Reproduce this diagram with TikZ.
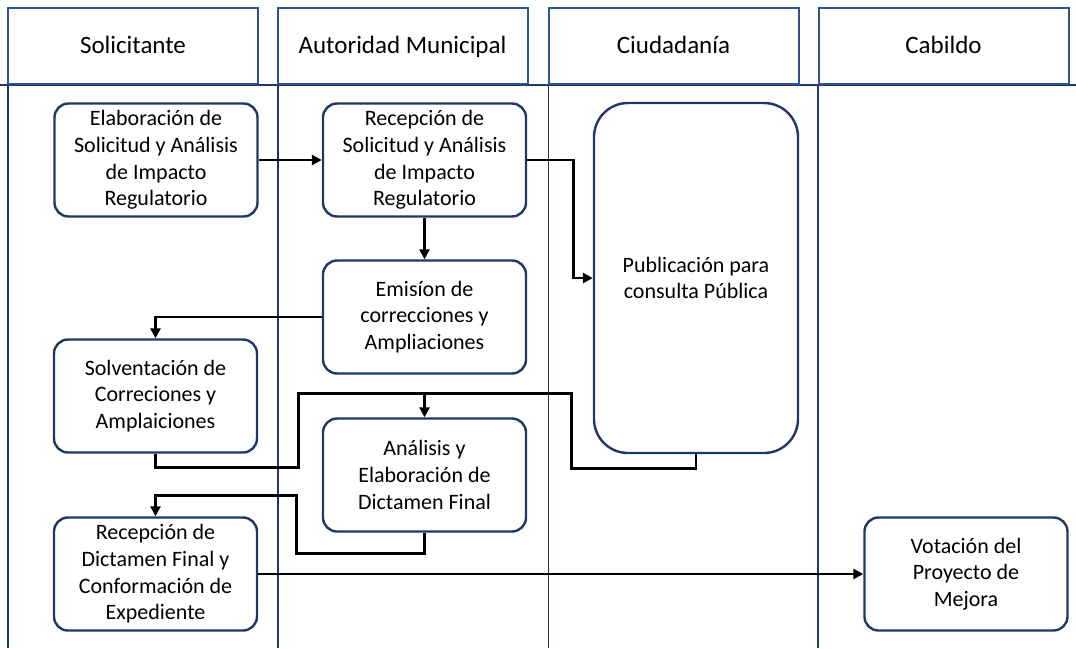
\documentclass[tikz,border=0pt]{standalone}
\usepackage{fontspec}
\setmainfont{Carlito}
\usetikzlibrary{arrows.meta,positioning,calc}

\definecolor{navy}{RGB}{32,56,100}
\definecolor{headblue}{RGB}{47,84,150}

\tikzset{
  lanehd/.style={draw=headblue, line width=2pt, minimum width=250pt, minimum height=76pt, text height=20pt, text depth=5pt, font=\fontsize{25}{30}\selectfont},
  proc/.style={draw=navy, fill=white, line width=2.4pt, rounded corners=14pt, minimum width=203pt, minimum height=113pt, align=center, font=\fontsize{22}{26.7}\selectfont},
  flow/.style={line width=2.6pt},
}

\begin{document}
\begin{tikzpicture}[x=1pt, y=1pt, >={Triangle[length=10pt,width=10pt]}]
    \useasboundingbox (0,0) rectangle (1076,-648);

    % Lanes
    \draw [navy, line width=1.2pt] (0,-85) -- (1076,-85);
    \foreach \lx in {8, 278, 548.5, 818}
        \draw [navy, line width=1.2pt] (\lx,-85) -- (\lx,-648);

    \node [lanehd] (hsol) at (133,-46)   {Solicitante};
    \node [lanehd] (haut) at (402.5,-46) {Autoridad Municipal};
    \node [lanehd] (hciu) at (673.5,-46) {Ciudadanía};
    \node [lanehd] (hcab) at (943.5,-46) {Cabildo};

    % Nodes
    \node [proc] (elab)    at (156,-160)   {Elaboración de\\Solicitud y Análisis\\de Impacto\\Regulatorio};
    \node [proc] (recep)   at (424.5,-160) {Recepción de\\Solicitud y Análisis\\de Impacto\\Regulatorio};
    \node [proc] (emision) at (424.5,-317) {Emisíon de\\correcciones y\\Ampliaciones};
    \node [proc, minimum width=204pt, minimum height=350pt, rounded corners=34pt]
                 (pub)     at (696,-278)   {Publicación para\\consulta Pública};
    \node [proc] (solv)    at (155.5,-396) {Solventación de\\Correciones y\\Amplaiciones};
    \node [proc] (anal)    at (424.5,-475) {Análisis y\\Elaboración de\\Dictamen Final};
    \node [proc] (recdict) at (155.5,-574) {Recepción de\\Dictamen Final y\\Conformación de\\Expediente};
    \node [proc] (vota)    at (966,-574)   {Votación del\\Proyecto de\\Mejora};

    \coordinate (mergeA) at ($(anal.north)+(0,24)$);
    \coordinate (mergeB) at ($(recdict.north)+(0,21)$);

    % Paths
    \draw [flow, ->] (elab) -- (recep);
    \draw [flow, ->] (recep.east) -- ++(46,0) |- (pub);
    \draw [flow, ->] (recep) -- (emision);
    \draw [flow, ->] (emision.west) -| (solv.north);
    \draw [flow, ->] (solv.south) -- ++(0,-14) -| ([xshift=-126pt]mergeA) -- (mergeA) -- (anal.north);
    \draw [flow]     (pub.south) -- ++(0,-14) -| ([xshift=147pt]mergeA) -- (mergeA);
    \draw [flow, ->] (anal.south) -- ++(0,-21) -| ([xshift=141pt]mergeB) -- (mergeB) -- (recdict.north);
    \draw [flow, ->] (recdict) -- (vota);

\end{tikzpicture}
\end{document}
